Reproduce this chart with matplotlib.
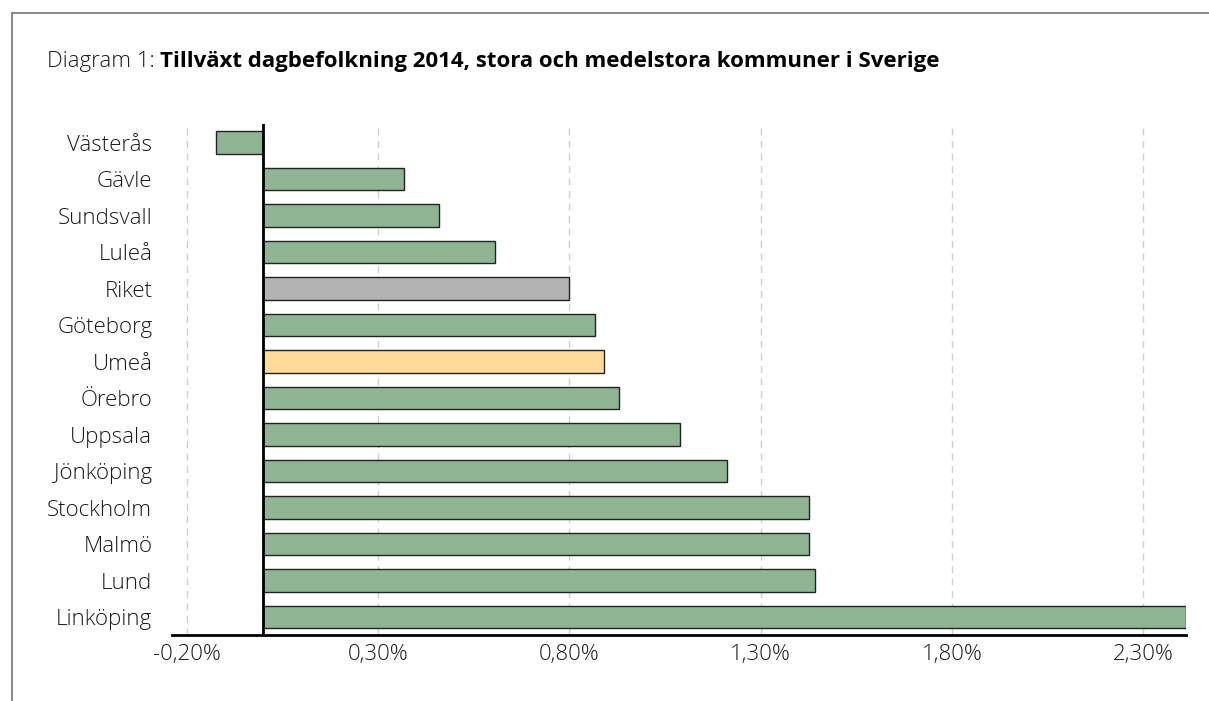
import matplotlib as mpl
import matplotlib.pyplot as plt
import numpy as np
from matplotlib.lines import Line2D
from matplotlib.ticker import FuncFormatter

mpl.rcParams['font.family'] = ['Open Sans', 'DejaVu Sans']

cities = ['Västerås', 'Gävle', 'Sundsvall', 'Luleå', 'Riket', 'Göteborg', 'Umeå',
          'Örebro', 'Uppsala', 'Jönköping', 'Stockholm', 'Malmö', 'Lund', 'Linköping']
growth = [-0.124, 0.369, 0.460, 0.606, 0.800, 0.867, 0.891,
          0.929, 1.090, 1.213, 1.427, 1.427, 1.443, 2.411]
xticks = [-0.20, 0.30, 0.80, 1.30, 1.80, 2.30]

green, grey, yellow = '#8FB492', '#B3B3B3', '#FFDA9A'
colors = [grey if c == 'Riket' else yellow if c == 'Umeå' else green for c in cities]

fig = plt.figure(figsize=(12.09, 7.01), dpi=100)
W, H = 1209, 701
ax = fig.add_axes([171.7 / W, 1 - 635.3 / H, (1185.7 - 171.7) / W, (635.3 - 124.3) / H])

y = np.arange(len(cities))
ax.barh(y, growth, height=0.62, color=colors, edgecolor='#222222', linewidth=1.0, zorder=3)
ax.set_ylim(len(cities) - 0.5, -0.5)
ax.set_xlim(-0.239, 2.411)

ax.set_yticks(y)
ax.set_yticklabels(cities)
ax.set_xticks(xticks)
ax.xaxis.set_major_formatter(FuncFormatter(lambda v, p: '{:.2f}%'.format(v).replace('.', ',')))
ax.tick_params(length=0, labelsize=16, colors='#1a1a1a')
ax.tick_params(axis='y', pad=14)
ax.tick_params(axis='x', pad=6)
for lbl in ax.get_xticklabels() + ax.get_yticklabels():
    lbl.set_fontweight('light')

for s in ['top', 'right', 'left']:
    ax.spines[s].set_visible(False)
ax.spines['bottom'].set_linewidth(2)
ax.spines['bottom'].set_color('black')
ax.spines['bottom'].set_zorder(5)
ax.grid(axis='x', color='#d0d0d0', linestyle=(0, (5, 4)), linewidth=1, zorder=0)
ax.axvline(0, color='black', linewidth=2, zorder=5)

# frame lines of the original chart area (only top and left visible)
fig.add_artist(Line2D([11.5 / W, 1], [1 - 12.7 / H] * 2, color='#7f7f7f', lw=1.3))
fig.add_artist(Line2D([11.5 / W] * 2, [0, 1 - 12.7 / H], color='#7f7f7f', lw=1.3))

t1 = fig.text(47 / W, 1 - 61 / H, 'Diagram 1: ', fontsize=16, va='center',
              fontweight='light', color='#1a1a1a')
fig.canvas.draw()
bb = t1.get_window_extent(fig.canvas.get_renderer())
fig.text(bb.x1 / W, 1 - 61 / H, 'Tillväxt dagbefolkning 2014, stora och medelstora kommuner i Sverige',
         fontsize=16, va='center', fontweight='bold', color='black')

fig.savefig('out.png', dpi=100)
